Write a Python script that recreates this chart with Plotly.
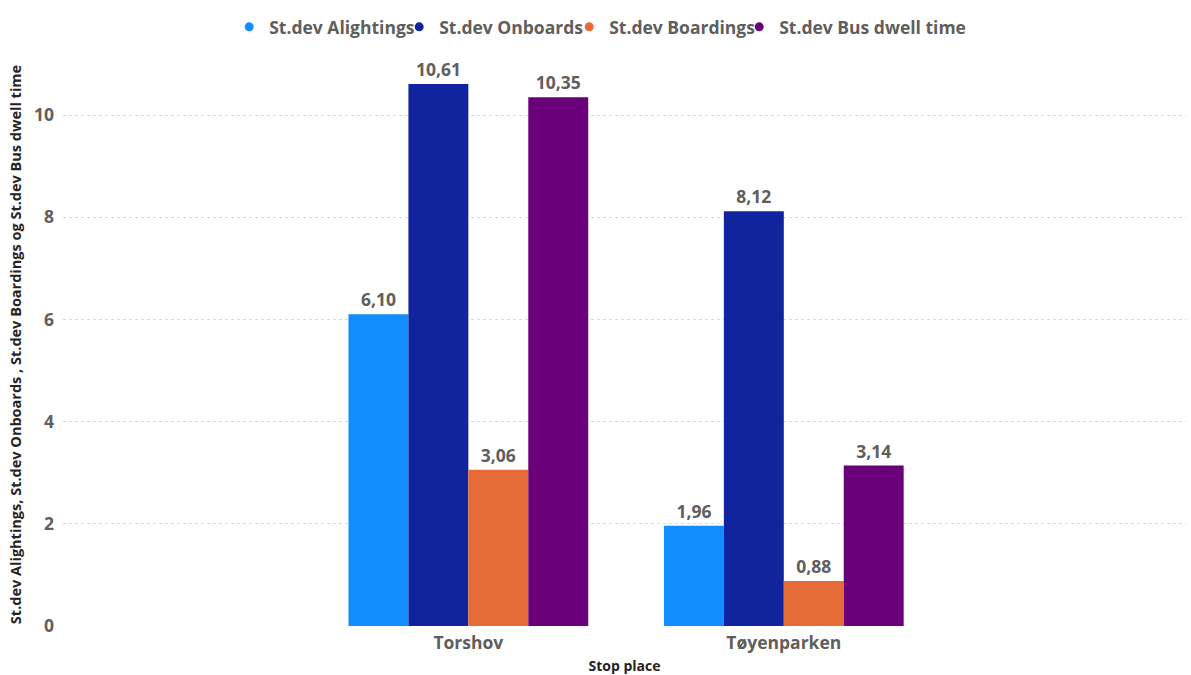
import plotly.graph_objects as go

# Standard deviation per stop place
stops = ["Torshov", "Tøyenparken"]
series_names = ["St.dev Alightings", "St.dev Onboards", "St.dev Boardings", "St.dev Bus dwell time"]
alightings = [6.10, 1.96]
onboards = [10.61, 8.12]
boardings = [3.06, 0.88]
dwell_time = [10.35, 3.14]
colors = ["#118DFF", "#12239E", "#E66C37", "#6B007B"]

values = [alightings, onboards, boardings, dwell_time]

label_font = dict(family="Open Sans", size=17.5, color="#605E5C", weight="bold")

fig = go.Figure()
for name, vals, col in zip(series_names, values, colors):
    fig.add_trace(go.Bar(
        x=stops, y=vals, name=name, marker_color=col, marker_line_width=0,
        texttemplate="%{y:.2f}", textposition="outside", cliponaxis=False,
        textfont=label_font,
        showlegend=False,
    ))
    # circle markers for the legend entries
    fig.add_trace(go.Scatter(
        x=[None], y=[None], mode="markers", name=name,
        marker=dict(symbol="circle", size=9, color=col), showlegend=True,
    ))

# empty trailing legend slot so the last (wider) label is not cut off
fig.add_trace(go.Scatter(
    x=[None], y=[None], mode="markers", name=" ",
    marker=dict(size=1, color="rgba(0,0,0,0)"), showlegend=True, hoverinfo="skip",
))

fig.update_layout(
    width=1191, height=675,
    margin=dict(l=63, r=5, t=63, b=49),
    paper_bgcolor="white", plot_bgcolor="white",
    separators=",.",
    barmode="group", bargap=0.24, bargroupgap=0,
    legend=dict(orientation="h", x=0.148, xanchor="left", y=1.064, yanchor="middle",
                font=label_font, itemwidth=30, entrywidth=125, entrywidthmode="pixels",
                itemclick=False, itemdoubleclick=False),
    xaxis=dict(
        range=[-1.285, 2.275], showgrid=False, showline=False, zeroline=False,
        tickfont=label_font, ticklabelstandoff=4,
        title=dict(text="Stop place", standoff=8,
                   font=dict(family="Open Sans", size=14, color="#252423", weight="bold")),
    ),
    yaxis=dict(
        range=[0, 11.02], dtick=2, showgrid=True, gridcolor="#D9D9D9", griddash="dot",
        zeroline=False, showline=False,
        tickfont=label_font,
        ticklabelstandoff=8,
        title=dict(text="St.dev Alightings, St.dev Onboards , St.dev Boardings og St.dev Bus dwell time",
                   standoff=8,
                   font=dict(family="Open Sans", size=14.5, color="#252423", weight="bold")),
    ),
)

fig.write_html("out.html")
